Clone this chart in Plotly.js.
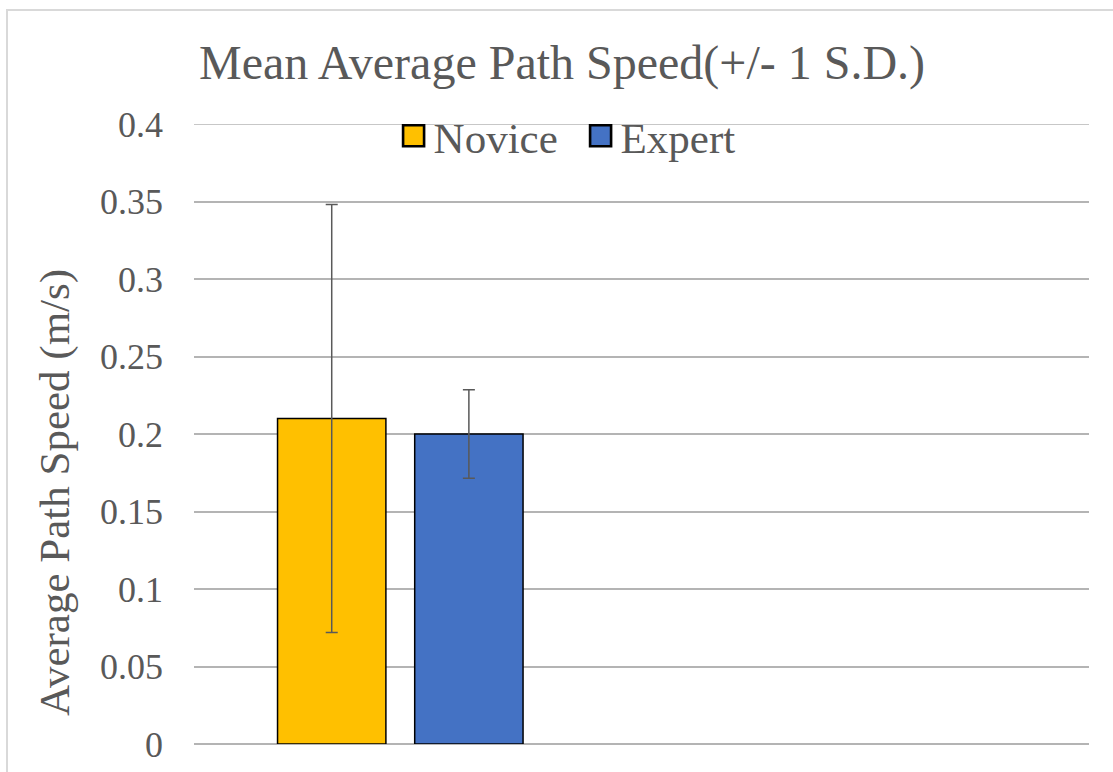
<!DOCTYPE html>
<html>
<head>
<meta charset="utf-8">
<script src="https://cdn.plot.ly/plotly-3.0.1.min.js"></script>
<style>
  html, body { margin: 0; padding: 0; background: #ffffff; }
  #wrap { position: relative; width: 1113px; height: 772px; overflow: hidden; }
  #chart { position: absolute; left: 0; top: 0; width: 1113px; height: 772px; }
  #frame { position: absolute; left: 6px; top: 9px; width: 1200px; height: 900px;
           border-left: 2px solid #d9d9d9; border-top: 2px solid #d9d9d9; pointer-events: none; }
</style>
</head>
<body>
<div id="wrap">
  <div id="chart"></div>
  <div id="frame"></div>
</div>
<script>
// Data
const categories = ["Group"];
const seriesNames = ["Novice", "Expert"];
const noviceMean = [0.21];
const noviceSD = [0.138];
const expertMean = [0.20];
const expertSD = [0.0285];
const seriesColors = ["#FFC000", "#4472C4"];
const yTickValues = [0, 0.05, 0.1, 0.15, 0.2, 0.25, 0.3, 0.35, 0.4];

const fontFamily = "Liberation Serif";
const textColor = "#595959";
const gridColor = "#b4b4b4";

function barTrace(name, y, sd, color) {
  return {
    type: "bar",
    name: name,
    x: categories,
    y: y,
    marker: { color: color, line: { color: "#000000", width: 1.5 } },
    error_y: { type: "data", array: sd, visible: true, color: "#595959", thickness: 1.5, width: 6 },
    hoverinfo: "y+name"
  };
}

const data = [
  barTrace(seriesNames[0], noviceMean, noviceSD, seriesColors[0]),
  barTrace(seriesNames[1], expertMean, expertSD, seriesColors[1])
];

const yMax = Math.max.apply(null, yTickValues);

const layout = {
  width: 1113,
  height: 772,
  paper_bgcolor: "rgba(0,0,0,0)",
  plot_bgcolor: "rgba(0,0,0,0)",
  margin: { l: 194, r: 24, t: 124, b: 28, pad: 0 },
  font: { family: fontFamily, color: textColor, size: 36 },
  title: {
    text: "Mean Average Path Speed(+/- 1 S.D.)",
    font: { family: fontFamily, size: 48, color: textColor },
    x: 0.505, xref: "container", xanchor: "center",
    y: 0.92, yref: "container", yanchor: "middle"
  },
  barmode: "group",
  bargap: 0.387,
  bargroupgap: 0.21,
  showlegend: true,
  legend: {
    orientation: "h",
    x: 0.223, xanchor: "left",
    y: 0.981, yanchor: "middle",
    entrywidth: 142,
    entrywidthmode: "pixels",
    bgcolor: "rgba(0,0,0,0)",
    font: { family: fontFamily, size: 43, color: textColor },
    itemclick: false
  },
  xaxis: {
    type: "category",
    range: [-0.461, 1.539],
    showticklabels: false,
    showgrid: false,
    zeroline: false,
    showline: false,
    ticks: "",
    fixedrange: true
  },
  yaxis: {
    range: [0, yMax],
    tickvals: yTickValues,
    showgrid: true,
    gridcolor: gridColor,
    gridwidth: 1.5,
    zeroline: true,
    zerolinecolor: gridColor,
    zerolinewidth: 1.5,
    showline: false,
    ticks: "",
    ticklabelstandoff: 30,
    tickfont: { family: fontFamily, size: 36, color: textColor },
    fixedrange: true
  },
  shapes: [{
    // top gridline (Plotly omits the gridline lying on the plot edge)
    type: "line", layer: "below",
    xref: "paper", x0: 0, x1: 1,
    yref: "y", y0: yMax, y1: yMax,
    line: { color: gridColor, width: 1.5 }
  }],
  annotations: [{
    text: "Average Path Speed (m/s)",
    xref: "paper", yref: "paper",
    x: -0.1546, y: 0.406,
    xanchor: "center", yanchor: "middle",
    textangle: -90,
    showarrow: false,
    font: { family: fontFamily, size: 43, color: textColor }
  }]
};

Plotly.newPlot("chart", data, layout, { displayModeBar: false }).then(function (gd) {
  // enlarge the legend swatches to match the reference's larger squares
  gd.querySelectorAll(".legendpoints path").forEach(function (p) {
    const t = p.getAttribute("transform") || "";
    p.setAttribute("transform", t + " scale(1.75)");
  });
});
</script>
</body>
</html>
